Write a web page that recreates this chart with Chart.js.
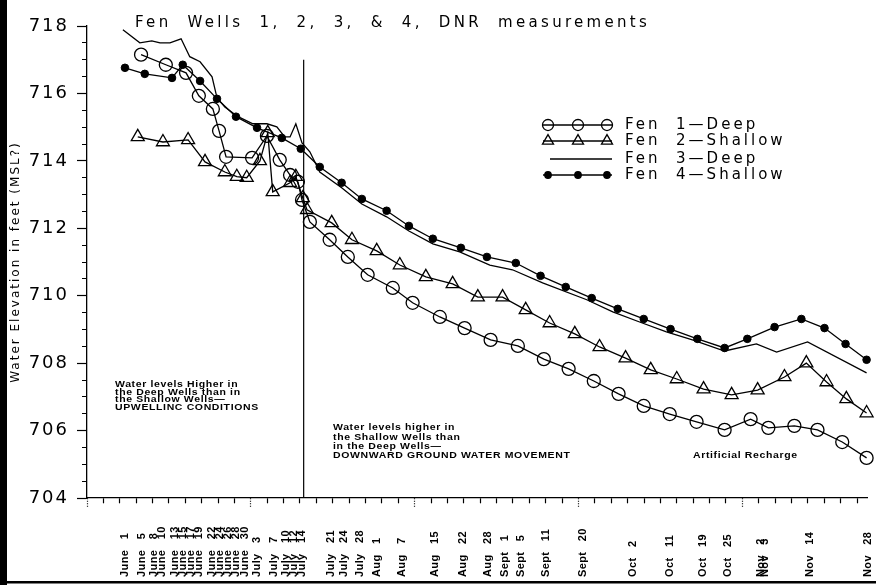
<!DOCTYPE html>
<html>
<head>
<meta charset="utf-8">
<script src="https://cdn.jsdelivr.net/npm/chart.js@4.4.1/dist/chart.umd.min.js"></script>
<style>
  html, body { margin: 0; padding: 0; background: #fff; }
  #wrap { width: 876px; height: 585px; }
</style>
</head>
<body>
<div id="wrap"><canvas id="myChart" width="876" height="585"></canvas></div>
<script>
// x = days after June 1, y = water elevation (ft)
var fen1Days = [3.9, 9.9, 14.8, 17.9, 21.3, 22.8, 24.5, 30.8, 34.4, 37.5, 40.0, 41.9, 42.9,
  44.8, 49.6, 54.0, 58.8, 64.9, 69.7, 76.3, 82.3, 88.6, 95.2, 101.5, 107.5, 113.6, 119.6,
  125.7, 132.0, 138.5, 145.3, 151.6, 155.9, 162.2, 167.8, 173.8, 179.7];
var fen1Levels = [717.15, 716.85, 716.61, 715.93, 715.54, 714.89, 714.12, 714.09, 714.74, 714.03, 713.58, 713.38, 712.84,
  712.19, 711.66, 711.15, 710.62, 710.23, 709.79, 709.37, 709.04, 708.69, 708.51, 708.12, 707.83, 707.47, 707.09,
  706.73, 706.49, 706.26, 706.02, 706.34, 706.08, 706.14, 706.02, 705.66, 705.19];

var fen2Days = [3.1, 9.2, 15.3, 19.4, 24.2, 27.1, 29.5, 32.7, 34.6, 35.8, 40.0, 41.4, 43.1,
  44.1, 50.1, 55.0, 61.0, 66.6, 72.9, 79.4, 85.5, 91.5, 97.1, 102.9, 109.0, 115.0, 121.3,
  127.4, 133.7, 140.2, 147.0, 153.3, 159.8, 165.1, 170.0, 174.8, 179.7];
var fen2Levels = [714.71, 714.56, 714.62, 713.97, 713.67, 713.53, 713.5, 714.0, 714.83, 713.08, 713.35, 713.53, 712.9,
  712.55, 712.16, 711.66, 711.33, 710.91, 710.56, 710.35, 709.96, 709.96, 709.58, 709.19, 708.87, 708.48, 708.15,
  707.8, 707.53, 707.23, 707.06, 707.2, 707.59, 708.0, 707.44, 706.94, 706.52];

var fen3Days = [-0.5, 3.6, 6.5, 8.5, 10.9, 13.6, 15.7, 18.2, 21.1, 22.3, 24.2, 27.4, 31.0, 34.4, 36.8, 38.7, 40.0, 41.4, 42.9,
  44.8, 47.2, 52.5, 57.4, 63.4, 68.8, 74.6, 81.1, 88.4, 93.9, 101.2, 111.9, 118.2, 124.7, 131.2, 137.5, 145.3, 153.0, 157.9, 165.4, 179.7];
var fen3Levels = [717.89, 717.5, 717.56, 717.5, 717.5, 717.62, 717.09, 716.94, 716.49, 715.87, 715.6, 715.31, 715.1, 715.1, 715.01, 714.71, 714.71, 715.1, 714.53,
  714.27, 713.67, 713.2, 712.72, 712.34, 711.92, 711.54, 711.3, 710.91, 710.77, 710.38, 709.88, 709.52, 709.22, 708.93, 708.69, 708.36, 708.57, 708.33, 708.63, 707.71];

var fen4Days = [0, 4.8, 11.4, 14.0, 18.2, 22.3, 26.9, 32.0, 38.0, 42.6,
  47.2, 52.5, 57.4, 63.4, 68.8, 74.6, 81.4, 87.7, 94.7, 100.7, 106.8, 113.1, 119.4,
  125.7, 132.2, 138.7, 145.3, 150.8, 157.4, 163.9, 169.5, 174.6, 179.7];
var fen4Levels = [716.76, 716.58, 716.46, 716.85, 716.37, 715.84, 715.31, 714.98, 714.68, 714.36,
  713.82, 713.35, 712.87, 712.52, 712.07, 711.69, 711.42, 711.15, 710.97, 710.59, 710.26, 709.93, 709.61,
  709.31, 709.01, 708.72, 708.45, 708.72, 709.07, 709.31, 709.04, 708.57, 708.1];

// divider between upwelling / downward periods
var dividerDays = [43.3, 43.3];
var dividerLevels = [704, 717.0];

var dateLabels = ['June 1', 'June 5', 'June 8', 'June 10', 'June 13', 'June 15', 'June 17', 'June 19', 'June 22',
  'June 24', 'June 26', 'June 28', 'June 30', 'July 3', 'July 7', 'July 10', 'July 12', 'July 14',
  'July 21', 'July 24', 'July 28', 'Aug 1', 'Aug 7', 'Aug 15', 'Aug 22', 'Aug 28', 'Sept 1', 'Sept 5',
  'Sept 11', 'Sept 20', 'Oct 2', 'Oct 11', 'Oct 19', 'Oct 25', 'Nov 2', 'Nov 3', 'Nov 14', 'Nov 28'];
var monthStart = { June: 0, July: 30, Aug: 61, Sept: 92, Oct: 122, Nov: 153 };

var seriesNames = ['Fen  1\u2014Deep', 'Fen  2\u2014Shallow', 'Fen  3\u2014Deep', 'Fen  4\u2014Shallow'];
var titleText = 'Fen  Wells  1,  2,  3,  &  4,  DNR  measurements';
var yTitle = 'Water Elevation in feet (MSL?)';
var noteUp = ['Water levels Higher in', 'the Deep Wells than in', 'the Shallow Wells\u2014', 'UPWELLINC CONDITIONS'];
var noteDown = ['Water levels higher in', 'the Shallow Wells than', 'in the Deep Wells\u2014', 'DOWNWARD GROUND WATER MOVEMENT'];
var noteRecharge = 'Artificial Recharge';

function pts(days, levels) {
  return days.map(function (d, i) { return { x: d, y: levels[i] }; });
}
function dayOf(lbl) {
  var p = lbl.split(' ');
  return monthStart[p[0]] + Number(p[1]) - 1;
}

function drawMarker(c, style, r, x, y, filled) {
  c.beginPath();
  if (style === 'triangle') {
    var a = 0;
    for (var k = 0; k < 3; k++) {
      var px = x + Math.sin(a) * r, py = y - Math.cos(a) * r;
      if (k === 0) c.moveTo(px, py); else c.lineTo(px, py);
      a += Math.PI * 2 / 3;
    }
    c.closePath();
  } else {
    c.arc(x, y, r, 0, Math.PI * 2);
  }
  if (filled) c.fill();
  c.stroke();
}

function squatText(c, t, x, y) {
  c.save();
  c.translate(x, y);
  c.scale(1.05, 0.9);
  c.fillText(t, 0, 0);
  c.restore();
}

var extras = {
  id: 'extras',
  beforeDraw: function (chart) {
    var c = chart.ctx;
    c.save();
    c.fillStyle = '#fff';
    c.fillRect(0, 0, chart.width, chart.height);
    c.fillStyle = '#000';
    c.fillRect(0, 0, 7, chart.height);
    c.fillRect(0, 581, chart.width, 2.5);
    c.restore();
    c.letterSpacing = '2px';
  },
  afterDraw: function (chart) {
    var c = chart.ctx;
    var xs = chart.scales.x;
    c.save();
    c.fillStyle = '#000';
    c.strokeStyle = '#000';

    // title
    c.font = '15px "DejaVu Sans"';
    c.letterSpacing = '3.3px';
    c.textAlign = 'left';
    c.textBaseline = 'alphabetic';
    c.fillText(titleText, 135, 27);

    // date labels, rotated and aligned at the bottom
    c.font = 'bold 11px "Liberation Sans"';
    c.letterSpacing = '0.4px';
    c.textBaseline = 'middle';
    dateLabels.forEach(function (lbl) {
      var x = xs.getPixelForValue(dayOf(lbl));
      c.save();
      c.translate(x, 577);
      c.rotate(-Math.PI / 2);
      c.fillText(lbl.replace(' ', '   '), 0, 0);
      c.restore();
    });

    // notes
    c.font = 'bold 10px "Liberation Sans"';
    c.letterSpacing = '0.6px';
    c.textBaseline = 'middle';
    noteUp.forEach(function (t, i) { squatText(c, t, 115, 385 + i * 7.4); });
    noteDown.forEach(function (t, i) { squatText(c, t, 333, 428 + i * 9.3); });
    squatText(c, noteRecharge, 693, 456);

    // legend
    var rows = [125, 141, 159, 175];
    c.font = '15px "DejaVu Sans"';
    c.letterSpacing = '3px';
    c.lineWidth = 1.3;
    chart.data.datasets.slice(0, 4).forEach(function (ds, i) {
      var y = rows[i];
      c.beginPath();
      c.moveTo(i === 2 ? 550 : 543, y);
      c.lineTo(612, y);
      c.stroke();
      if (ds.pointRadius > 0) {
        [548, 578, 607].forEach(function (mx) {
          drawMarker(c, ds.pointStyle, ds.pointRadius * 0.85, mx, y, ds.pointBackgroundColor === '#000');
        });
      }
      c.fillText(seriesNames[i], 625, y);
    });
    c.restore();
  }
};

var xTicks = [];
for (var t = -9.2; t < 180; t += 3.97) { xTicks.push(t); }
var yTicks = [];
for (var v = 704; v <= 718; v += 0.5) { yTicks.push(v); }

var lineBase = { borderColor: '#000', borderWidth: 1.3, tension: 0, clip: false,
  pointBorderColor: '#000', pointBorderWidth: 1.3, pointHoverRadius: 0 };

new Chart(document.getElementById('myChart'), {
  type: 'line',
  data: {
    datasets: [
      Object.assign({}, lineBase, { label: seriesNames[0], data: pts(fen1Days, fen1Levels),
        pointStyle: 'circle', pointRadius: 6.5, pointBackgroundColor: 'rgba(0,0,0,0)' }),
      Object.assign({}, lineBase, { label: seriesNames[1], data: pts(fen2Days, fen2Levels),
        pointStyle: 'triangle', pointRadius: 7.5, pointBackgroundColor: 'rgba(0,0,0,0)' }),
      Object.assign({}, lineBase, { label: seriesNames[2], data: pts(fen3Days, fen3Levels),
        pointRadius: 0 }),
      Object.assign({}, lineBase, { label: seriesNames[3], data: pts(fen4Days, fen4Levels),
        pointStyle: 'circle', pointRadius: 3.8, pointBorderWidth: 1, pointBackgroundColor: '#000' }),
      Object.assign({}, lineBase, { label: 'divider', data: pts(dividerDays, dividerLevels),
        pointRadius: 0, borderWidth: 1.2 })
    ]
  },
  options: {
    responsive: false,
    animation: false,
    devicePixelRatio: 1,
    layout: { padding: { top: 26, right: 9, left: 0, bottom: 0 } },
    plugins: { legend: { display: false }, tooltip: { enabled: false }, title: { display: false } },
    scales: {
      x: {
        type: 'linear',
        min: -9.2,
        max: 179.8,
        afterBuildTicks: function (s) { s.ticks = xTicks.map(function (d) { return { value: d }; }); },
        afterFit: function (s) { s.height = 87; },
        ticks: { display: false, autoSkip: false },
        border: { color: '#000', width: 1.3 },
        grid: {
          drawOnChartArea: false, tickLength: 9, color: '#000', tickWidth: 1.2,
          tickBorderDash: function (ctx) { return ctx.index % 10 === 0 ? [1, 1.5] : [5, 20]; }
        }
      },
      y: {
        min: 704,
        max: 718,
        afterBuildTicks: function (s) { s.ticks = yTicks.map(function (d) { return { value: d }; }); },
        afterFit: function (s) { s.width = 87; },
        ticks: {
          autoSkip: false,
          color: '#000',
          padding: 8,
          font: { family: 'DejaVu Sans', size: 18 },
          callback: function (val) { return val % 2 === 0 ? String(val) : ''; }
        },
        title: { display: true, text: yTitle, color: '#000', padding: { top: 9, bottom: 0 },
          font: { family: 'DejaVu Sans', size: 12 } },
        border: { color: '#000', width: 1.3 },
        grid: {
          drawOnChartArea: false, tickLength: 10, color: '#000', tickWidth: 1.2,
          tickBorderDash: function (ctx) { return ctx.tick && ctx.tick.value % 2 === 0 ? [] : [0, 5, 10, 0]; }
        }
      }
    }
  },
  plugins: [extras]
});
</script>
</body>
</html>
